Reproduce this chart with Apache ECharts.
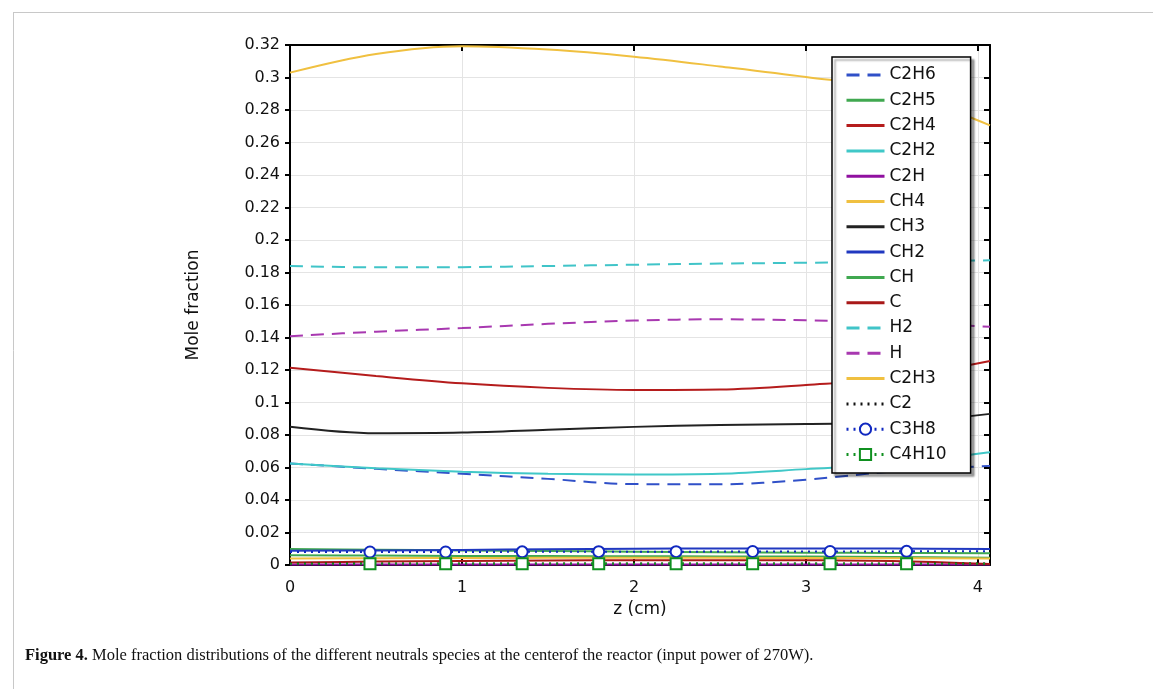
<!DOCTYPE html>
<html>
<head>
<meta charset="utf-8">
<script src="https://cdn.jsdelivr.net/npm/echarts@6/dist/echarts.min.js"></script>
<style>
  html, body { margin: 0; padding: 0; background: #fff; }
  #root { width: 1153px; height: 689px; }
</style>
</head>
<body>
<div id="root"></div>
<script>
// z positions (cm) the curves were read at
const zs = [0, 0.5, 1, 1.5, 2, 2.5, 3, 3.5, 4.07]
// marker rows (C3H8 / C4H10) are read at their own positions
const markZ = [0, 0.465, 0.905, 1.35, 1.795, 2.245, 2.69, 3.14, 3.585, 4.07]

const xTicks = [0, 1, 2, 3, 4]
const yMax = 0.32
const yStep = 0.02

// mole fractions
const c2h6 = [0.0625, 0.0592, 0.0562, 0.0530, 0.0498, 0.0497, 0.0525, 0.0575, 0.0610]
const c2h5 = [0.0098, 0.0094, 0.0090, 0.0086, 0.0082, 0.0079, 0.0076, 0.0074, 0.0072]
const c2h4 = [0.1214, 0.1163, 0.1118, 0.1090, 0.1077, 0.1080, 0.1108, 0.1150, 0.1255]
const c2h2 = [0.0625, 0.0596, 0.0574, 0.0561, 0.0557, 0.0562, 0.0590, 0.0622, 0.0695]
const c2h  = [0.0003, 0.0003, 0.0003, 0.0003, 0.0003, 0.0003, 0.0003, 0.0003, 0.0003]
const ch4  = [0.3030, 0.3145, 0.3193, 0.3172, 0.3128, 0.3068, 0.3003, 0.2925, 0.2705]
const ch3  = [0.0851, 0.0811, 0.0815, 0.0832, 0.0850, 0.0862, 0.0868, 0.0876, 0.0930]
const ch2  = [0.0088, 0.0090, 0.0093, 0.0097, 0.0100, 0.0102, 0.0102, 0.0101, 0.0098]
const ch   = [0.0060, 0.0058, 0.0056, 0.0055, 0.0054, 0.0053, 0.0052, 0.0050, 0.0045]
const c    = [0.0015, 0.0021, 0.0025, 0.0028, 0.0030, 0.0030, 0.0029, 0.0024, 0.0006]
const h2   = [0.1840, 0.1832, 0.1833, 0.1840, 0.1848, 0.1855, 0.1860, 0.1866, 0.1875]
const h    = [0.1408, 0.1436, 0.1458, 0.1484, 0.1504, 0.1512, 0.1506, 0.1494, 0.1466]
const c2h3 = [0.0040, 0.0042, 0.0043, 0.0044, 0.0044, 0.0044, 0.0043, 0.0042, 0.0040]
const c2   = [0.0009, 0.0009, 0.0009, 0.0009, 0.0009, 0.0009, 0.0009, 0.0009, 0.0009]
const c3h8 = [0.0080, 0.0080, 0.0080, 0.0081, 0.0082, 0.0082, 0.0083, 0.0083, 0.0084, 0.0085]
const c4h10 = [0.0008, 0.0008, 0.0008, 0.0008, 0.0008, 0.0008, 0.0008, 0.0008, 0.0008, 0.0008]

const main = document.getElementById('root')
const chart = echarts.init(main, null, { renderer: 'canvas' })

const FONT = 'DejaVu Sans'
const dash = [13, 8]
const dot = [2, 5]

function curve(name, values, color, type) {
  return {
    name,
    type: 'line',
    data: zs.map((z, i) => [z, values[i]]),
    smooth: 0.35,
    symbol: 'none',
    showSymbol: false,
    lineStyle: { color, width: 2, type },
    itemStyle: { color },
    emphasis: { disabled: true }
  }
}

function marked(name, values, color, symbol) {
  const last = markZ.length - 1
  return {
    name,
    type: 'line',
    data: markZ.map((z, i) => [z, values[i]]),
    symbol,
    symbolSize: (v, p) => (p.dataIndex === 0 || p.dataIndex === last) ? 0 : 11,
    showSymbol: true,
    lineStyle: { color, width: 2, type: dot },
    itemStyle: { color, borderWidth: 2.5 },
    emphasis: { disabled: true }
  }
}

const series = [
  curve('C2H6', c2h6, '#3050c8', dash),
  curve('C2H5', c2h5, '#40a850', 'solid'),
  curve('C2H4', c2h4, '#b51c1c', 'solid'),
  curve('C2H2', c2h2, '#40c8c8', 'solid'),
  curve('C2H', c2h, '#9010a0', 'solid'),
  curve('CH4', ch4, '#f0c040', 'solid'),
  curve('CH3', ch3, '#222222', 'solid'),
  curve('CH2', ch2, '#2038c0', 'solid'),
  curve('CH', ch, '#40a850', 'solid'),
  curve('C', c, '#a81818', 'solid'),
  curve('H2', h2, '#40c4c8', dash),
  curve('H', h, '#a838b0', dash),
  curve('C2H3', c2h3, '#f0c040', 'solid'),
  curve('C2', c2, '#111111', dot),
  marked('C3H8', c3h8, '#1028c0', 'emptyCircle'),
  marked('C4H10', c4h10, '#109020', 'emptyRect')
]

// plain line icons in the legend, symbol only for the marked rows
const legendData = series.map(s => s.symbol === 'none'
  ? { name: s.name, itemStyle: { opacity: 0 } }
  : { name: s.name })

const xMax = 4.07

const option = {
  animation: false,
  backgroundColor: '#fff',
  textStyle: { fontFamily: FONT },
  grid: { left: 290, right: 163, top: 45, bottom: 124, containLabel: false },
  xAxis: [
    {
      type: 'value', min: 0, max: xMax, interval: 1,
      position: 'bottom',
      name: 'z (cm)', nameLocation: 'middle', nameGap: 33,
      nameTextStyle: { fontSize: 17, color: '#111', fontFamily: FONT },
      axisLine: { show: true, lineStyle: { color: '#000', width: 2 } },
      axisTick: { show: true, inside: true, length: 6, lineStyle: { color: '#000', width: 2 } },
      axisLabel: {
        show: true, margin: 15, fontSize: 16, color: '#111', fontFamily: FONT,
        formatter: v => xTicks.includes(v) ? String(v) : ''
      },
      splitLine: { show: true, lineStyle: { color: '#e4e4e4', width: 1 } }
    },
    {
      type: 'value', min: 0, max: xMax, interval: 1,
      position: 'top',
      axisLine: { show: true, onZero: false, lineStyle: { color: '#000', width: 2 } },
      axisTick: { show: true, inside: true, length: 6, lineStyle: { color: '#000', width: 2 } },
      axisLabel: { show: false },
      splitLine: { show: false }
    }
  ],
  yAxis: [
    {
      type: 'value', min: 0, max: yMax, interval: yStep,
      position: 'left',
      name: 'Mole fraction', nameLocation: 'middle', nameGap: 88, nameRotate: 90,
      nameTextStyle: { fontSize: 17, color: '#111', fontFamily: FONT },
      axisLine: { show: true, onZero: false, lineStyle: { color: '#000', width: 2 } },
      axisTick: { show: true, inside: false, length: 5, lineStyle: { color: '#000', width: 2 } },
      axisLabel: { show: true, margin: 10, fontSize: 16, color: '#111', fontFamily: FONT },
      splitLine: { show: true, lineStyle: { color: '#e4e4e4', width: 1 } }
    },
    {
      type: 'value', min: 0, max: yMax, interval: yStep,
      position: 'right',
      axisLine: { show: true, onZero: false, lineStyle: { color: '#000', width: 2 } },
      axisTick: { show: true, inside: true, length: 6, lineStyle: { color: '#000', width: 2 } },
      axisLabel: { show: false },
      splitLine: { show: false }
    }
  ],
  legend: {
    orient: 'vertical',
    left: 832, top: 57,
    itemWidth: 38, itemHeight: 14, itemGap: 8.3,
    padding: [9.5, 24, 10, 13],
    backgroundColor: '#fff',
    borderColor: '#000', borderWidth: 1.5, borderRadius: 0,
    shadowColor: 'rgba(0,0,0,0.35)', shadowBlur: 2, shadowOffsetX: 3, shadowOffsetY: 3,
    selectedMode: false,
    lineStyle: { width: 3 },
    textStyle: { fontSize: 17, color: '#111', fontFamily: FONT },
    data: legendData
  },
  graphic: [
    { type: 'line', shape: { x1: 13.5, y1: 12, x2: 13.5, y2: 689 }, style: { stroke: '#c8c8c8', lineWidth: 1 } },
    { type: 'line', shape: { x1: 13, y1: 12.5, x2: 1153, y2: 12.5 }, style: { stroke: '#c8c8c8', lineWidth: 1 } },
    {
      type: 'text', left: 25, top: 647,
      style: {
        text: '{b|Figure 4.} Mole fraction distributions of the different neutrals species at the centerof the reactor (input power of 270W).',
        font: '16.5px "Liberation Serif"',
        fill: '#111',
        rich: {
          b: { fontWeight: 'bold', fontFamily: 'Liberation Serif', fontSize: 16.5, fill: '#111' }
        }
      }
    }
  ],
  series
}

chart.setOption(option)
</script>
</body>
</html>
